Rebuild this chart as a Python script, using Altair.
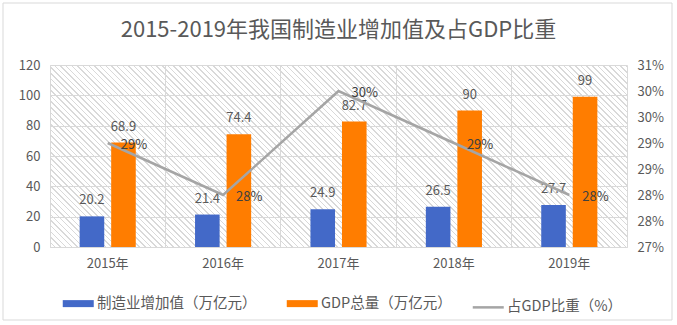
import math
import altair as alt
import pandas as pd

FONT = "Noto Sans CJK SC"
TXT = "#595959"
GRID = "#d9d9d9"

years = ["2015年", "2016年", "2017年", "2018年", "2019年"]
mfg_values = [20.2, 21.4, 24.9, 26.5, 27.7]
gdp_values = [68.9, 74.4, 82.7, 90, 99]
share_values = [0.29, 0.28, 0.30, 0.29, 0.28]

S1 = "制造业增加值（万亿元）"
S2 = "GDP总量（万亿元）"
S3 = "占GDP比重（%）"
series_names = [S1, S2, S3]
series_colors = ["#4369c8", "#ff7d00", "#a5a5a5"]

left_ticks = [0, 20, 40, 60, 80, 100, 120]
right_ticks = [0.27, 0.275, 0.28, 0.285, 0.29, 0.295, 0.30, 0.305]

W, H = 577, 182

bars_rows = []
for y, m, g in zip(years, mfg_values, gdp_values):
    bars_rows.append({"year": y, "series": S1, "value": m, "label": f"{m:g}"})
    bars_rows.append({"year": y, "series": S2, "value": g, "label": f"{g:g}"})
bars_df = pd.DataFrame(bars_rows)

line_df = pd.DataFrame({
    "year": years,
    "series": [S3] * len(years),
    "share": share_values,
    "label": [f"{round(v * 100)}%" for v in share_values],
})

# hatch background as a striped linear gradient (45 degree lines)
r = H / W
s = (1 + r) / (1 + r * r)
L = (W + H) / math.sqrt(2)
P, T = 4.0, 1.1
stops = []
pos = 0.0
while pos < L:
    a = pos / L
    b = min((pos + P - T) / L, 1)
    c = min((pos + P) / L, 1)
    stops += [(a, "#ffffff"), (b, "#ffffff"), (b, GRID), (c, GRID)]
    pos += P
stops_str = ",".join("{offset:%.5f,color:'%s'}" % (o, col) for o, col in stops)
grad_expr = "{gradient:'linear',x1:0,y1:1,x2:%.5f,y2:%.5f,stops:[%s]}" % (s, 1 - s * r, stops_str)

x_axis = alt.Axis(title=None, labelAngle=0, ticks=False, domainColor=GRID, grid=True,
                  gridColor=GRID, bandPosition=0, labelPadding=10)
X = alt.X("year:N", sort=years, scale=alt.Scale(paddingInner=0, paddingOuter=0), axis=x_axis)
XO = alt.XOffset("series:N", sort=[S1, S2], scale=alt.Scale(paddingInner=0.22, paddingOuter=0.94))

Y_left = alt.Y("value:Q", scale=alt.Scale(domain=[0, 120], nice=False),
               axis=alt.Axis(values=left_ticks, title=None, grid=True, gridColor=GRID,
                             ticks=False, domainColor=GRID, labelPadding=10))
Y_right = alt.Y("share:Q", scale=alt.Scale(domain=[0.27, 0.305], nice=False, zero=False),
                axis=alt.Axis(orient="right", values=right_ticks, title=None, grid=False,
                              ticks=False, domainColor=GRID, labelPadding=10,
                              labelExpr="round(datum.value*100 + 1e-9) + '%'"))

legend = alt.Legend(
    orient="none", legendX=21, legendY=231, direction="horizontal", title=None,
    columnPadding=15, labelOffset=11.5, labelLimit=300,
    symbolType="stroke", symbolSize=961,
    symbolStrokeWidth={"expr": "datum.value === '%s' ? 2.5 : 7" % S3},
    symbolStrokeColor={"expr": "scale('color', datum.value)"},
)
COLOR = alt.Color("series:N", scale=alt.Scale(domain=series_names, range=series_colors), legend=legend)

bars = alt.Chart(bars_df).mark_bar().encode(x=X, xOffset=XO, y=Y_left, color=COLOR)
bar_text = alt.Chart(bars_df).mark_text(baseline="middle", dy=-16, fontSize=13, color=TXT, font=FONT).encode(
    x=X, xOffset=XO, y=Y_left, text="label:N")
frame = alt.Chart(pd.DataFrame({"a": [0]})).mark_rect(fillOpacity=0, stroke=GRID, strokeWidth=1).encode(
    x=alt.value(-47), x2=alt.value(622), y=alt.value(-62), y2=alt.value(255))

line = alt.Chart(line_df).mark_line(strokeWidth=2.5).encode(x=X, y=Y_right, color=COLOR)
line_text = alt.Chart(line_df).mark_text(align="left", baseline="middle", dx=13, dy=2, fontSize=13,
                                         color="#404040", font=FONT).encode(x=X, y=Y_right, text="label:N")

left = alt.layer(frame, bars, bar_text)
right = alt.layer(line, line_text)

chart = alt.layer(left, right).resolve_scale(y="independent").properties(
    width=W, height=H,
    autosize=alt.AutoSizeParams(type="none"),
    padding={"left": 50, "top": 65, "right": 50, "bottom": 78},
    title=alt.TitleParams(text="2015-2019年我国制造业增加值及占GDP比重", anchor="middle", fontSize=22,
                          font=FONT, color=TXT, fontWeight="normal", offset=-39),
).configure_view(stroke=None, fill={"expr": grad_expr}).configure_axis(
    labelFont=FONT, labelFontSize=13, labelColor=TXT
).configure_legend(
    labelFont=FONT, labelFontSize=14.5, labelColor=TXT
)

chart.save("out.html", embed_options={"renderer": "svg", "actions": False})
